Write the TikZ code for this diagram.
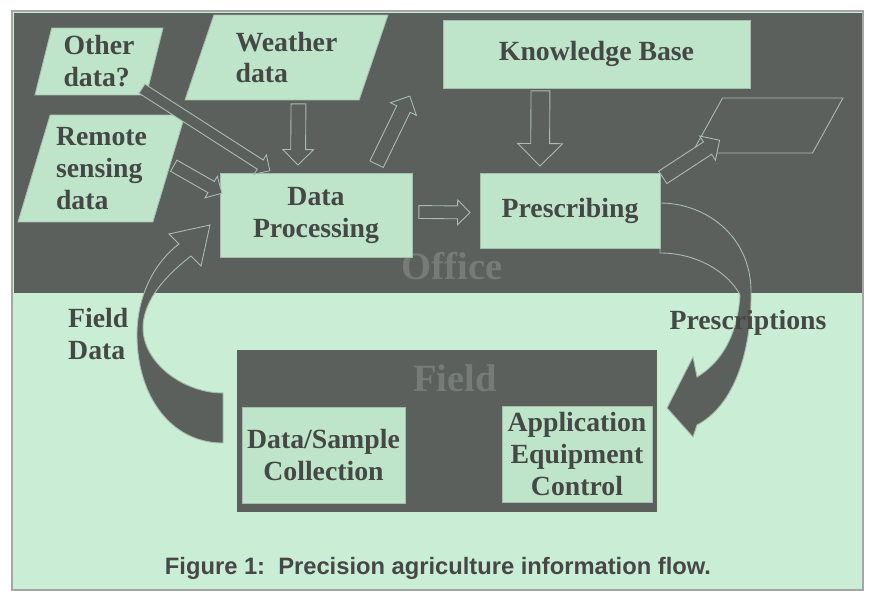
\documentclass[tikz,border=0pt]{standalone}
\usepackage{fontspec}
\setmainfont{Liberation Serif}
\newfontfamily\capfont{Liberation Sans}
\usepackage{tikz}
\usetikzlibrary{shapes.geometric,shapes.arrows,calc,positioning}
\usepackage{xcolor}
\definecolor{mint}{HTML}{C9EDD5}
\definecolor{boxmint}{HTML}{BEE5CA}
\definecolor{panel}{HTML}{5C605C}
\definecolor{rim}{HTML}{A9BDAF}
\definecolor{ink}{HTML}{454845}
\definecolor{ghost}{HTML}{757C75}
\newdimen\pxu \pxu=0.02cm
\tikzset{
  panelbox/.style={rectangle,fill=panel,inner sep=0pt},
  infobox/.style={rectangle,fill=boxmint,draw=rim,line width=0.5pt,inner sep=0pt,align=center,text=ink},
  datain/.style={trapezium,trapezium stretches body=true,fill=boxmint,draw=rim,line width=0.5pt,inner sep=0pt,align=left,text=ink},
  flowarrow/.style={single arrow,fill=panel,draw=rim,line width=0.5pt,inner xsep=0pt},
  bigarrow/.style={fill=panel,draw=rim,line width=0.5pt},
}
% hollow block arrow: from, to, half shaft, head extend
\newcommand{\blockarrow}[4]{%
  \path let \p1=(#1), \p2=(#2), \n1={atan2(\y2-\y1,\x2-\x1)}, \n2={veclen(\x2-\x1,\y2-\y1)} in
    node[flowarrow,inner ysep=#3\pxu,single arrow head extend=#4\pxu,minimum height=\n2,rotate=\n1,anchor=tail] at (\p1) {};}

\begin{document}
\begin{tikzpicture}[
  x=0.02cm,y=-0.02cm,
  every node/.style={font=\fontsize{15.8}{18.2}\selectfont\bfseries},
  tag/.style={font=\fontsize{22}{24}\selectfont\bfseries,text=ghost}
]
\useasboundingbox[fill=white] (0,0) rectangle (870,591);
\draw[fill=mint,draw=gray!70,line width=0.8pt] (12,11) rectangle (863,590);

\node[panelbox,minimum width=16.96cm,minimum height=5.6cm] (office) at (438,153) {};
\node[tag] (officetag) at (452,266) {Office};
\node[panelbox,minimum width=8.4cm,minimum height=3.24cm] (field) at (447,431) {};
\node[tag] (fieldtag) at (455,378) {Field};

% big curved arrows
\draw[bigarrow] (223,443) .. controls (170,443) and (137,395) .. (137,335)
  .. controls (137,295) and (155,262) .. (179,244) -- (169,234) -- (210,225) -- (201,266) -- (191,256)
  .. controls (160,280) and (142,305) .. (143,330)
  .. controls (145,365) and (185,393) .. (223,393) -- cycle;
\draw[bigarrow] (660,203) .. controls (705,203) and (750,235) .. (751,290)
  .. controls (752,350) and (735,405) .. (697,425) -- (693,437) -- (667,408) -- (693,357) -- (697,377)
  .. controls (725,360) and (738,330) .. (740,295)
  .. controls (730,275) and (700,253) .. (660,253) -- cycle;

\node[datain,inner ysep=0.03cm,trapezium left angle=73,trapezium right angle=107,minimum width=2.56cm,minimum height=1.34cm] (other) at (99,61.5) {Other\\data?};
\node[datain,inner ysep=0.2cm,trapezium left angle=68,trapezium right angle=112,minimum width=4.06cm,minimum height=1.7cm] (weather) at (286.5,57.5) {Weather\\data};
\node[datain,inner ysep=0.11cm,trapezium left angle=71,trapezium right angle=109,minimum width=3.34cm,minimum height=2.14cm] (remote) at (101.5,168.5) {Remote\\sensing\\data};
\node[datain,fill=panel,inner ysep=0.55cm,trapezium left angle=61,trapezium right angle=119,minimum width=3.02cm,minimum height=1.1cm] (output) at (767.5,125.5) {};

\node[infobox,minimum width=6.14cm,minimum height=1.36cm] (kb) at (596.5,54) {Knowledge Base};
\node[infobox,minimum width=3.84cm,minimum height=1.68cm] (proc) at (316,215) {Data\\Processing};
\node[infobox,minimum width=3.6cm,minimum height=1.5cm] (presc) at (570,210.5) {Prescribing};
\node[infobox,minimum width=3.26cm,minimum height=1.92cm] (collect) at (323.5,455) {Data/Sample\\Collection};
\node[infobox,minimum width=3cm,minimum height=1.92cm] (appl) at (577,454) {Application\\Equipment\\Control};

\blockarrow{$(other.bottom right corner)+(-5,-7)$}{$(proc.north west)+(50,-2)$}{5}{6}
\blockarrow{$(remote.east)+(4,-3)$}{$(proc.west)+(2,-22)$}{6}{6}
\blockarrow{$(weather.south)+(12,3)$}{$(proc.north)+(-18,-8)$}{7}{8}
\blockarrow{$(proc.north east)+(-36,-8)$}{$(kb.south west)+(-33,8)$}{7}{7}
\blockarrow{$(kb.south)+(-56,2)$}{$(presc.north)+(-30,-7)$}{9}{13}
\blockarrow{$(proc.east)+(6,-3)$}{$(presc.west)+(-10,2)$}{6}{6}
\blockarrow{$(presc.north east)+(2,5)$}{$(output.bottom left corner)+(28,-13)$}{7}{7}

\node[align=left,text=ink,anchor=west] (fielddata) at (62,334) {Field\\Data};
\node[text=ink] (presclabel) at (748,323) {Prescriptions};
\node[font=\capfont\fontsize{13.5}{16}\selectfont\bfseries,text=black!72] (caption) at (438,568) {Figure 1:\ \ Precision agriculture information flow.};
\end{tikzpicture}
\end{document}
